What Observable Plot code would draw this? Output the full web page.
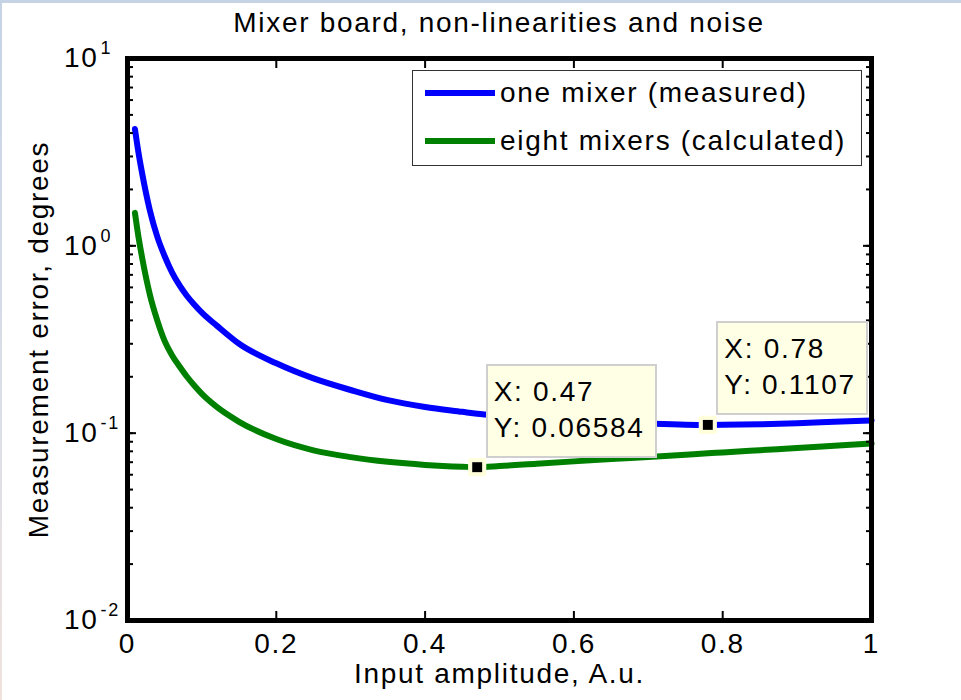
<!DOCTYPE html>
<html>
<head>
<meta charset="utf-8">
<script src="https://cdn.jsdelivr.net/npm/d3@7"></script>
<script src="https://cdn.jsdelivr.net/npm/@observablehq/plot@0.6"></script>
<style>
  body { margin: 0; background: #fff; }
  #wrap { position: relative; width: 961px; height: 700px; overflow: hidden;
          font-family: Arial, "Liberation Sans", Helvetica, sans-serif; color: #000; }
  #topbar { position: absolute; left: 0; top: 0; width: 961px; height: 3px; background: #c5d3e5; z-index: 5; }
  #leftbar { position: absolute; left: 0; top: 0; width: 2px; height: 700px;
             background: linear-gradient(#c5d3e5, #dcdfe8 60%, #f0e2dc); z-index: 5; }
  #title { margin-left: 127px; width: 744px; height: 40px; line-height: 46px; text-align: center;
           font-size: 28px; letter-spacing: 1.7px; white-space: nowrap; }
  #chart svg { display: block; }
  #legend { position: absolute; left: 412px; top: 70px; width: 450px; height: 96px; box-sizing: border-box;
            border: 1px solid #333; background: #fff; }
  #legend .sw { position: absolute; left: 12px; width: 70px; height: 6px; }
  #legend .lbl { position: absolute; left: 87px; font-size: 28px; line-height: 36px; letter-spacing: 1.7px; white-space: nowrap; }
  .tip { position: absolute; box-sizing: border-box; background: #ffffe6; border: 2px solid #cfcfcf;
         padding: 8px 10px 10px 6px; font-size: 28px; line-height: 36px; letter-spacing: 1.7px; white-space: nowrap; }
</style>
</head>
<body>
<div id="wrap">
  <div id="topbar"></div>
  <div id="leftbar"></div>
  <div id="title">Mixer board, non-linearities and noise</div>
  <div id="chart"></div>
</div>
<script>
// ---- data ----
const xs = [0.01,0.015,0.02,0.03,0.04,0.05,0.06,0.07,0.08,0.09,0.1,0.12,0.15,0.2,0.25,0.3,0.35,0.4,0.45,0.47,0.5,0.55,0.6,0.65,0.7,0.75,0.78,0.8,0.85,0.9,0.95,1.0];
const oneMixer = [4.2,3.1,2.4,1.55,1.12,0.88,0.72,0.615,0.54,0.485,0.44,0.375,0.30,0.236,0.196,0.17,0.15,0.138,0.130,0.127,0.124,0.120,0.117,0.1145,0.1125,0.111,0.1107,0.1108,0.1115,0.113,0.115,0.117];
const eightMixers = [1.5,1.1,0.85,0.55,0.40,0.31,0.26,0.227,0.20,0.179,0.162,0.138,0.115,0.093,0.081,0.0745,0.0703,0.0677,0.0662,0.06584,0.0667,0.0687,0.0707,0.0727,0.0747,0.0768,0.0781,0.0789,0.0811,0.0834,0.0857,0.0881];
const seriesNames = ["one mixer (measured)", "eight mixers (calculated)"];
const seriesColors = ["#0000ff", "#008000"];
const xTicks = [0, 0.2, 0.4, 0.6, 0.8, 1];
const xTickLabels = ["0", "0.2", "0.4", "0.6", "0.8", "1"];
const yTicks = [10, 1, 0.1, 0.01];
const yTickBase = "10";
const yTickExps = ["1", "0", "-1", "-2"];
const tipX = [0.47, 0.78];
const tipY = [0.06584, 0.1107];
const xLabel = "Input amplitude, A.u.";
const yLabel = "Measurement error, degrees";

const blueData = xs.map((x, i) => ({x, y: oneMixer[i]}));
const greenData = xs.map((x, i) => ({x, y: eightMixers[i]}));
const tips = tipX.map((x, i) => ({x, y: tipY[i]}));

const chart = Plot.plot({
  width: 961, height: 660,
  marginTop: 18, marginRight: 90, marginBottom: 80, marginLeft: 127,
  x: {domain: [0, 1]},
  y: {type: "log", domain: [0.01, 10]},
  style: {fontFamily: 'Arial, "Liberation Sans", Helvetica, sans-serif', fontSize: "28px",
          letterSpacing: "1.7px", background: "transparent", color: "black", overflow: "visible"},
  marks: [
    Plot.line(blueData, {x: "x", y: "y", stroke: seriesColors[0], strokeWidth: 6, curve: "monotone-x"}),
    Plot.line(greenData, {x: "x", y: "y", stroke: seriesColors[1], strokeWidth: 6, curve: "monotone-x"}),
    Plot.axisX({anchor: "bottom", ticks: xTicks, tickFormat: d => xTickLabels[xTicks.indexOf(d)],
                tickSize: -9, tickPadding: 22, label: null, strokeWidth: 2}),
    Plot.axisX({anchor: "top", ticks: xTicks, tickFormat: () => "", tickSize: -9, label: null, strokeWidth: 2}),
    Plot.axisY({anchor: "left", ticks: 30, tickFormat: () => "", tickSize: -6, label: null, strokeWidth: 2}),
    Plot.axisY({anchor: "right", ticks: 30, tickFormat: () => "", tickSize: -6, label: null, strokeWidth: 2}),
    Plot.axisY({anchor: "left", ticks: yTicks, tickFormat: () => "", tickSize: -9, label: null, strokeWidth: 2}),
    Plot.axisY({anchor: "right", ticks: yTicks, tickFormat: () => "", tickSize: -9, label: null, strokeWidth: 2}),
    Plot.text(yTicks, {y: d => d, text: () => yTickBase, frameAnchor: "left", textAnchor: "end", dx: -29}),
    Plot.text(yTicks, {y: d => d, text: (d, i) => yTickExps[i], frameAnchor: "left", textAnchor: "start",
                       dx: -27, dy: -10, fontSize: 18}),
    Plot.text([xLabel], {text: d => d, frameAnchor: "bottom", textAnchor: "middle", dy: 62}),
    Plot.text([yLabel], {text: d => d, frameAnchor: "left", textAnchor: "middle", dx: -88, rotate: -90}),
    Plot.frame({stroke: "black", strokeWidth: 5}),
    Plot.dot(tips, {x: "x", y: "y", symbol: "square", r: 8, fill: "#ffffdc", stroke: "#ffffdc",
                    strokeWidth: 4, strokeLinejoin: "round"}),
    Plot.dot(tips, {x: "x", y: "y", symbol: "square", r: 5.6, fill: "black"})
  ]
});
document.getElementById("chart").append(chart);

const wrap = document.getElementById("wrap");
const svgTop = 40;

// legend
const legend = document.createElement("div");
legend.id = "legend";
seriesNames.forEach((name, i) => {
  const sw = document.createElement("div");
  sw.className = "sw";
  sw.style.background = seriesColors[i];
  sw.style.top = (19 + i * 48) + "px";
  const lbl = document.createElement("div");
  lbl.className = "lbl";
  lbl.textContent = name;
  lbl.style.top = (4 + i * 48) + "px";
  legend.append(sw, lbl);
});
wrap.append(legend);

// data tips
const sx = chart.scale("x"), sy = chart.scale("y");
tips.forEach(t => {
  const px = sx.apply(t.x), py = sy.apply(t.y) + svgTop;
  const div = document.createElement("div");
  div.className = "tip";
  div.innerHTML = "X: " + String(t.x) + "<br>Y: " + String(t.y);
  div.style.left = (px + 9) + "px";
  div.style.bottom = (700 - (py - 9)) + "px";
  wrap.append(div);
});
</script>
</body>
</html>
